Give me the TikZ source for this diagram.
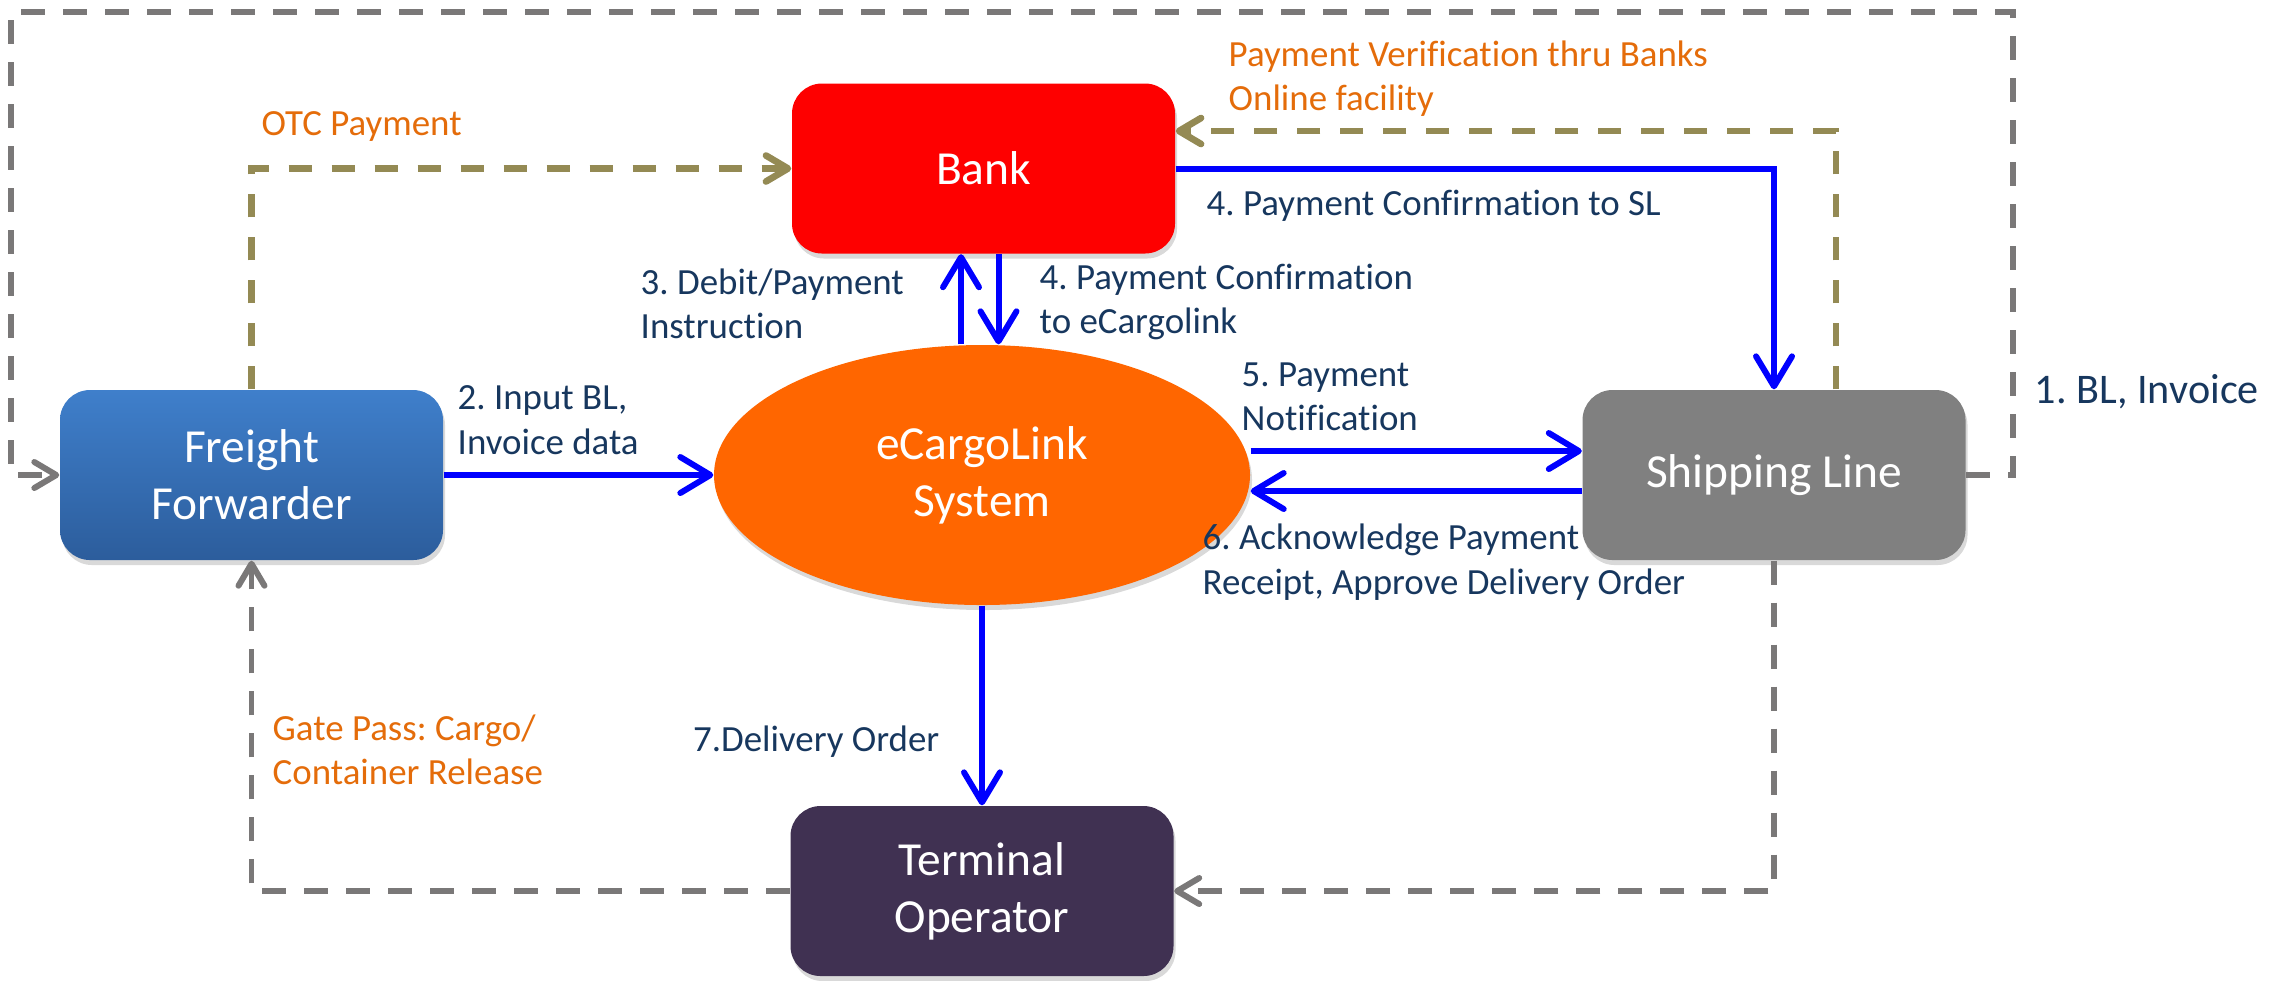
\documentclass[tikz,border=0pt]{standalone}
\usepackage{fontspec}
\setmainfont{Carlito}[Ligatures=NoCommon]
\usetikzlibrary{arrows.meta,shapes.geometric,shadows}
\frenchspacing

\definecolor{fftop}{HTML}{3F7FCB}
\definecolor{ffbot}{HTML}{2C5D9C}
\definecolor{bankred}{HTML}{FE0000}
\definecolor{cargoorange}{HTML}{FF6600}
\definecolor{slgray}{HTML}{808080}
\definecolor{topurple}{HTML}{403152}
\definecolor{flowblue}{HTML}{0000FF}
\definecolor{dashgray}{HTML}{7A7878}
\definecolor{otcolive}{HTML}{948A54}
\definecolor{lblnavy}{HTML}{17375E}
\definecolor{noteorange}{HTML}{E46C0A}

\tikzset{
  box/.style={rectangle, rounded corners=0.3cm, minimum width=3.83cm, minimum height=1.70cm,
    inner sep=0pt, text=white, align=center, font=\fontsize{13.5}{16.2}\selectfont,
    drop shadow={shadow xshift=0.02cm, shadow yshift=-0.05cm, opacity=0.3}},
  ell/.style={ellipse, fill=cargoorange, minimum width=5.36cm, minimum height=2.60cm,
    inner sep=0pt, text=white, align=center, font=\fontsize{13.5}{16.2}\selectfont,
    drop shadow={shadow xshift=0.02cm, shadow yshift=-0.05cm, opacity=0.3}},
  flow/.style={draw=flowblue, line width=1.7pt, -{Straight Barb[length=0.3cm, width=0.36cm, round]}},
  back/.style={draw=dashgray, line width=1.7pt, dash pattern=on 0.24cm off 0.18cm,
    -{Straight Barb[length=0.22cm, width=0.26cm, round]}},
  otc/.style={draw=otcolive, line width=1.9pt, dash pattern=on 0.23cm off 0.2cm,
    -{Straight Barb[length=0.22cm, width=0.26cm, round]}},
  lbl/.style={text=lblnavy, anchor=west, align=left, inner sep=0pt, font=\fontsize{10.5}{12.6}\selectfont},
  note/.style={lbl, text=noteorange}
}

\begin{document}
\begin{tikzpicture}

\useasboundingbox (0,0) rectangle (22.81,-9.80);

\node[box, top color=fftop, bottom color=ffbot] (FF) at (2.515,-4.75) {Freight\\Forwarder};
\node[box, fill=bankred] (Bank) at (9.835,-1.685) {Bank};
\node[ell] (eCL) at (9.82,-4.75) {eCargoLink\\System};
\node[box, fill=slgray] (SL) at (17.74,-4.75) {Shipping Line};
\node[box, fill=topurple] (TO) at (9.82,-8.91) {Terminal\\Operator};

\coordinate (outerR) at (20.13,-0.12);
\coordinate (outerL) at (0.11,-0.12);

\draw[back] (SL.east) -| (outerR) -- (outerL) |- (FF.west);
\draw[back] (SL.south) |- (TO.east);
\draw[back] (TO.west) -| (FF.south);

\draw[otc] (FF.north) |- (Bank.west);
\draw[otc] ([xshift=0.62cm]SL.north) |- ([yshift=0.375cm]Bank.east);

\draw[flow] (FF) -- (eCL);
\draw[flow] ([xshift=-0.21cm]eCL.north) -- ([xshift=-0.225cm]Bank.south);
\draw[flow] ([xshift=0.15cm]Bank.south) -- ([xshift=0.165cm]eCL.north);
\draw[flow] (Bank.east) -| (SL.north);
\draw[flow] ([yshift=0.24cm]eCL.east) -- ([yshift=0.24cm]SL.west);
\draw[flow] ([yshift=-0.16cm]SL.west) -- ([yshift=-0.16cm]eCL.east);
\draw[flow] (eCL.south) -- (TO.north);

\node[lbl, font=\fontsize{12}{14.4}\selectfont] (l1) at (20.34,-3.92) {1. BL, Invoice};
\node[lbl] (l2) at (4.57,-4.20) {2. Input BL,\\Invoice data};
\node[lbl] (l3) at (6.40,-3.04) {3. Debit/Payment\\Instruction};
\node[lbl] (l4a) at (10.39,-3.02) {4. Payment Confirmation\\to eCargolink};
\node[lbl] (l4b) at (12.06,-2.06) {4. Payment Confirmation to SL};
\node[lbl] (l5) at (12.41,-3.97) {5. Payment\\Notification};
\node[lbl] (l6) at (12.02,-5.62) {6. Acknowledge Payment\\Receipt, Approve Delivery Order};
\node[lbl, anchor=east] (l7) at (9.40,-7.42) {7.Delivery Order};

\node[note] (otcLbl) at (2.61,-1.26) {OTC Payment};
\node[note] (verLbl) at (12.28,-0.79) {Payment Verification thru Banks\\Online facility};
\node[note] (gateLbl) at (2.72,-7.50) {Gate Pass: Cargo/\\Container Release};

\end{tikzpicture}
\end{document}
